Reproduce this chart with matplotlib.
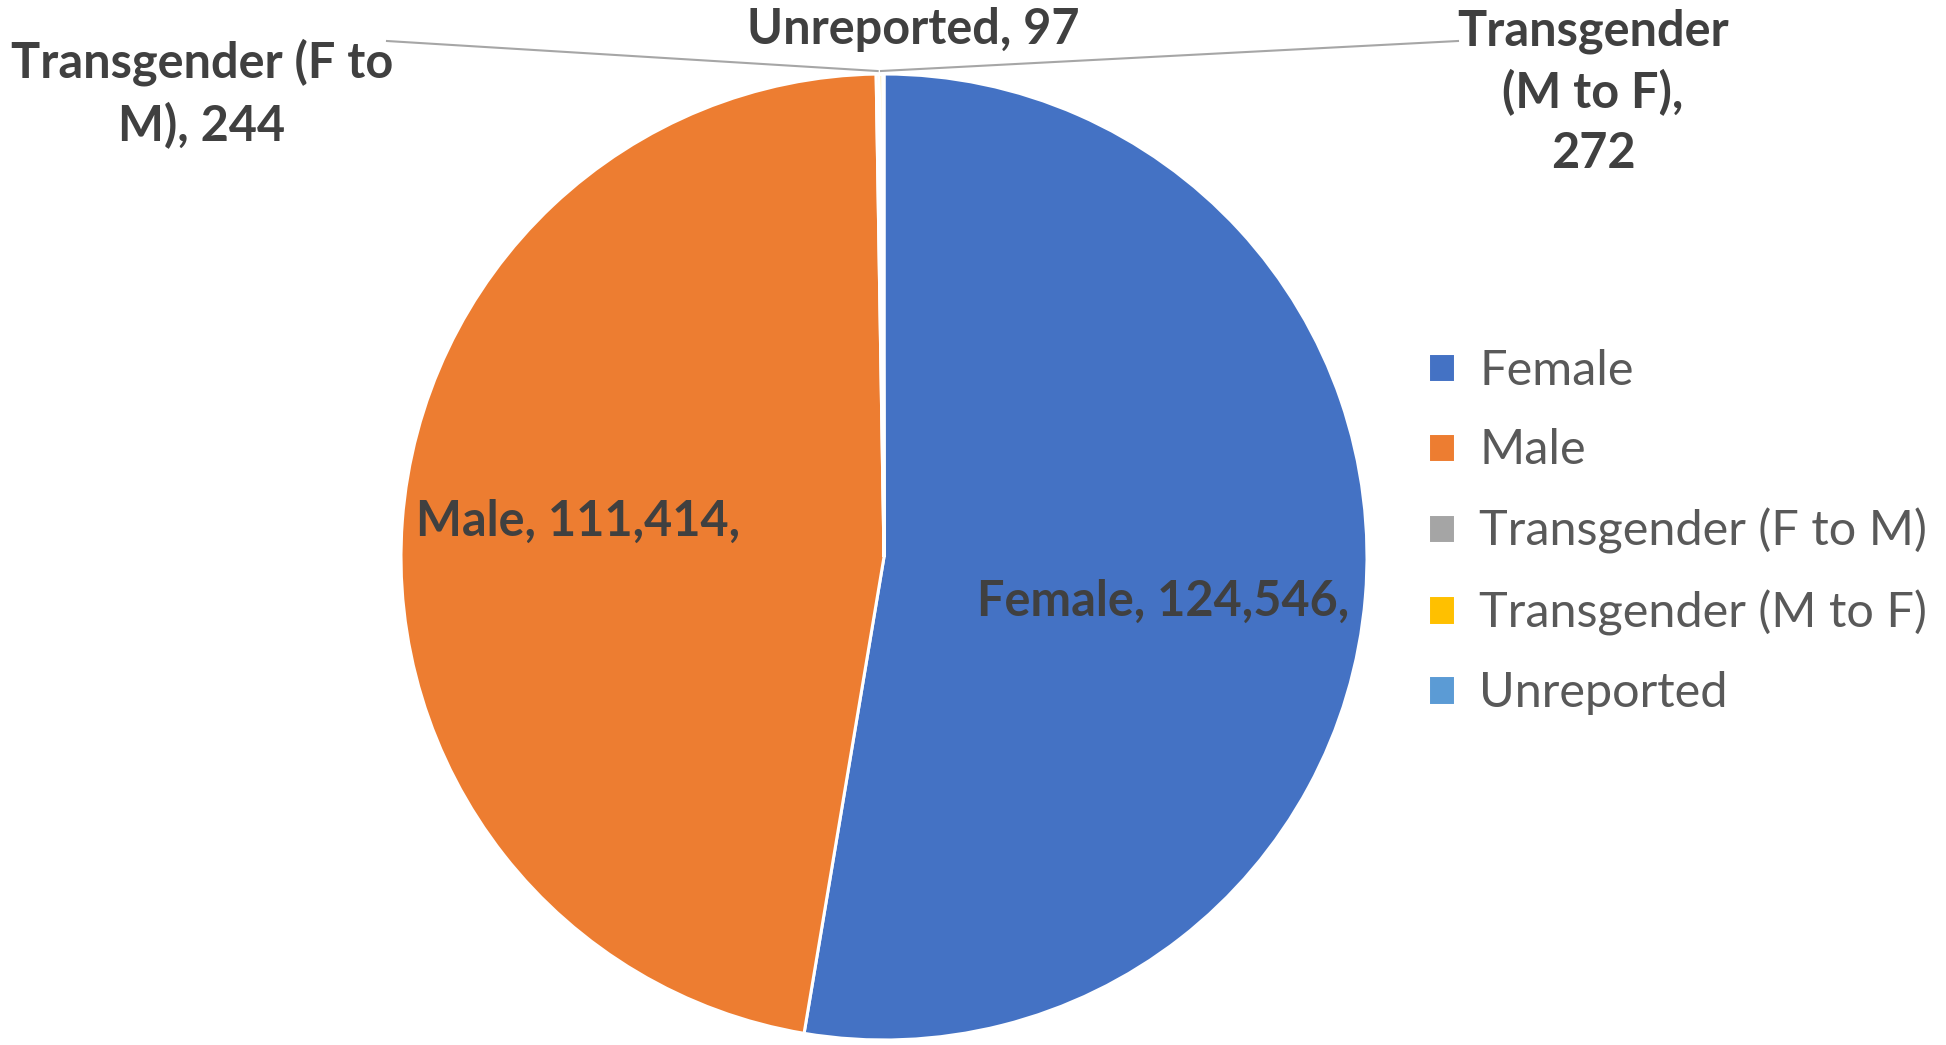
import matplotlib
matplotlib.use("Agg")
import matplotlib.pyplot as plt
import numpy as np

categories = ['Female', 'Male', 'Transgender (F to M)', 'Transgender (M to F)', 'Unreported']
counts = [124546, 111414, 244, 272, 97]
colors = ['#4472C4', '#ED7D31', '#A5A5A5', '#FFC000', '#5B9BD5']
slice_labels = ['Female, 124,546,', 'Male, 111,414,', 'Transgender (F to\nM), 244',
                'Transgender\n(M to F),\n272', 'Unreported, 97']

W, H = 1946, 1045
fig = plt.figure(figsize=(W / 100, H / 100), dpi=100)
ax = fig.add_axes([0, 0, 1, 1])

cx, cy, r = 884, H - 557, 483
wedges, _ = ax.pie(counts, colors=colors, startangle=90, counterclock=False,
                   center=(cx, cy), radius=r,
                   wedgeprops=dict(edgecolor='white', linewidth=2.2))
ax.set_xlim(0, W)
ax.set_ylim(0, H)
ax.set_aspect('equal')
ax.axis('off')

font = 'Lato'
lab_kw = dict(fontsize=35, fontweight='bold', color='#404040', family=font,
              ha='center', va='center', multialignment='center', linespacing=1.4)

# label positions in pixels (x, y from top)
label_pos = [(1163, 601), (578, 521), (202, 94), (1593, 92), (913, 30)]
for txt, (x, y) in zip(slice_labels, label_pos):
    ax.text(x, H - y, txt, **lab_kw)

# leader lines for the tiny slices
line_start = {2: (387, 41), 3: (1458, 41)}
for i, (sx, sy) in line_start.items():
    w = wedges[i]
    mid = np.deg2rad((w.theta1 + w.theta2) / 2)
    ex, ey = cx + (r + 3) * np.cos(mid), cy + (r + 3) * np.sin(mid)
    ax.plot([sx, ex], [H - sy, ey], color='#A6A6A6', lw=1.5)

leg = ax.legend(wedges, categories, loc='upper left', bbox_to_anchor=(1428 / W, 1 - 349 / H),
                frameon=False, handlelength=0.55, handleheight=0.55,
                handletextpad=0.5, labelspacing=0.73, borderpad=0, borderaxespad=0,
                prop=dict(family=font, size=35))
for t in leg.get_texts():
    t.set_color('#595959')

fig.savefig('out.png', dpi=100, facecolor='white')
